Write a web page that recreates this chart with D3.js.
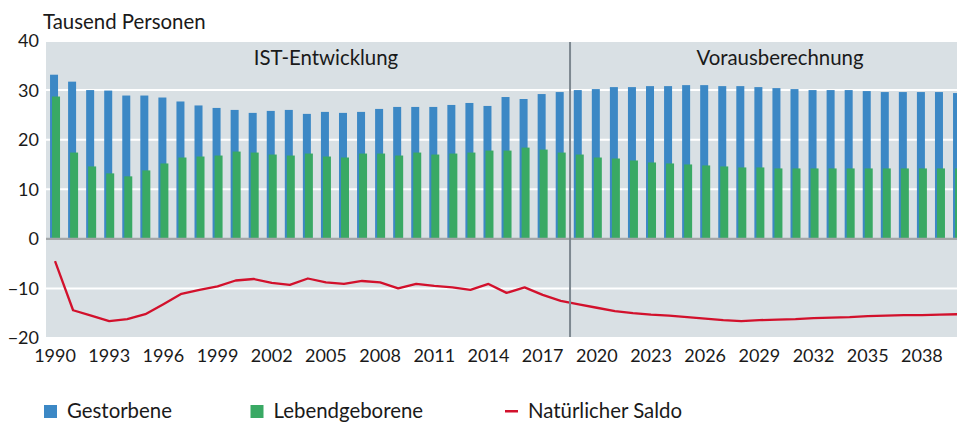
<!DOCTYPE html>
<html><head><meta charset="utf-8">
<script src="https://cdn.jsdelivr.net/npm/d3@7"></script>
<style>body{margin:0;background:#fff}svg{display:block}text{font-family:Lato,"Noto Sans",sans-serif;fill:#1a1a1a}</style>
</head><body><svg id="c" width="957" height="423"></svg>
<script>
const years = d3.range(1990, 2041);
const gestorbene = [33.1,31.7,30.0,29.9,28.9,28.9,28.5,27.7,26.9,26.4,26.0,25.4,25.8,26.0,25.2,25.6,25.4,25.6,26.2,26.6,26.6,26.6,27.0,27.4,26.8,28.6,28.2,29.2,29.6,30.0,30.2,30.6,30.6,30.8,30.8,31.0,31.0,30.8,30.8,30.6,30.4,30.2,30.0,30.0,30.0,29.8,29.6,29.6,29.6,29.6,29.4];
const lebendgeborene = [28.7,17.4,14.6,13.2,12.6,13.8,15.2,16.4,16.6,16.8,17.6,17.4,17.0,16.8,17.2,16.6,16.4,17.2,17.2,16.8,17.4,17.0,17.2,17.4,17.8,17.8,18.4,18.0,17.4,17.0,16.4,16.2,15.8,15.4,15.2,15.0,14.8,14.6,14.4,14.4,14.2,14.2,14.2,14.2,14.2,14.2,14.2,14.2,14.2,14.2,14.2];
const saldo = [-4.5,-14.4,-15.5,-16.6,-16.2,-15.2,-13.2,-11.1,-10.3,-9.6,-8.4,-8.1,-8.9,-9.3,-8.0,-8.8,-9.1,-8.5,-8.8,-10.0,-9.1,-9.5,-9.8,-10.3,-9.1,-10.9,-9.8,-11.3,-12.5,-13.2,-13.9,-14.6,-15.0,-15.3,-15.5,-15.8,-16.1,-16.4,-16.6,-16.4,-16.3,-16.2,-16.0,-15.9,-15.8,-15.6,-15.5,-15.4,-15.4,-15.3,-15.2];
const yTicks = [-20,-10,0,10,20,30,40];
const xTickYears = d3.range(1990, 2039, 3);
const periodLabels = ["IST-Entwicklung","Vorausberechnung"];
const splitYear = 2018;
const legendItems = ["Gestorbene","Lebendgeborene","Natürlicher Saldo"];
const colors = {blue:"#3c88c5", green:"#39a964", red:"#d2112c", bg:"#d9e0e4"};

const svg = d3.select("#c");
const x = d3.scaleBand().domain(years).range([46, 46 + 51*18.06]).padding(0);
const y = d3.scaleLinear().domain([-20, 40]).range([338, 40.5]);
const cx = d => x(d) + x.bandwidth()/2;
const plotL = 46, plotR = 957, plotT = y(40)+1.5, plotB = y(-20)-1;
const numSize = 18, txtSize = 20.4;

svg.append("rect").attr("x",plotL).attr("y",plotT).attr("width",plotR-plotL).attr("height",plotB-plotT).attr("fill",colors.bg);

svg.append("g").selectAll("line").data(yTicks.filter(t=>t!==0 && t!==40 && t!==-20)).join("line")
  .attr("x1",plotL).attr("x2",plotR).attr("y1",d=>y(d)).attr("y2",d=>y(d))
  .attr("stroke","#fff").attr("stroke-width",2);

svg.append("defs").append("clipPath").attr("id","pc").append("rect")
  .attr("x",plotL).attr("y",plotT).attr("width",plotR-plotL).attr("height",plotB-plotT);
const g = svg.append("g").attr("clip-path","url(#pc)");

g.selectAll("rect.b").data(years).join("rect").attr("class","b")
  .attr("x",d=>cx(d)-5).attr("width",8)
  .attr("y",(d,i)=>y(gestorbene[i])).attr("height",(d,i)=>y(0)-y(gestorbene[i]))
  .attr("fill",colors.blue);
g.selectAll("rect.g").data(years).join("rect").attr("class","g")
  .attr("x",d=>cx(d)-3).attr("width",8)
  .attr("y",(d,i)=>y(lebendgeborene[i])).attr("height",(d,i)=>y(0)-y(lebendgeborene[i]))
  .attr("fill",colors.green);

svg.append("line").attr("x1",plotL).attr("x2",plotR).attr("y1",y(0)).attr("y2",y(0))
  .attr("stroke","#a3a6a8").attr("stroke-width",2.2);

const sepX = (cx(splitYear)+cx(splitYear+1))/2 + 0.3;
svg.append("line").attr("x1",sepX).attr("x2",sepX).attr("y1",plotT).attr("y2",plotB)
  .attr("stroke","#7d8890").attr("stroke-width",2);

g.append("path").datum(years).attr("fill","none").attr("stroke",colors.red).attr("stroke-width",2.3)
  .attr("stroke-linejoin","round")
  .attr("d", d3.line().x(d=>cx(d)).y((d,i)=>y(saldo[i])));

svg.append("g").selectAll("text").data(yTicks).join("text")
  .attr("x",39).attr("y",d=>y(d)).attr("dy","0.36em").attr("text-anchor","end")
  .attr("font-size",numSize).text(d=> d<0 ? "\u2212"+Math.abs(d) : d);

svg.append("g").selectAll("text").data(xTickYears).join("text")
  .attr("x",d=>cx(d)).attr("y",356).attr("dy","0.36em").attr("text-anchor","middle")
  .attr("font-size",numSize).text(d=>d);

svg.append("text").attr("x",43).attr("y",29).attr("font-size",txtSize).text("Tausend Personen");

svg.append("text").attr("x",326).attr("y",64.5).attr("text-anchor","middle").attr("font-size",txtSize).text(periodLabels[0]);
svg.append("text").attr("x",780).attr("y",64.5).attr("text-anchor","middle").attr("font-size",txtSize).text(periodLabels[1]);

const lx = [44, 250.5, 505];
const lg = svg.append("g");
lg.append("rect").attr("x",lx[0]).attr("y",405).attr("width",13).attr("height",13).attr("fill",colors.blue);
lg.append("rect").attr("x",lx[1]).attr("y",405).attr("width",13).attr("height",13).attr("fill",colors.green);
lg.append("rect").attr("x",lx[2]).attr("y",410).attr("width",13).attr("height",2.5).attr("fill",colors.red);
lg.selectAll("text").data(legendItems).join("text")
  .attr("x",(d,i)=>lx[i]+23).attr("y",418).attr("font-size",txtSize).text(d=>d);
</script></body></html>
